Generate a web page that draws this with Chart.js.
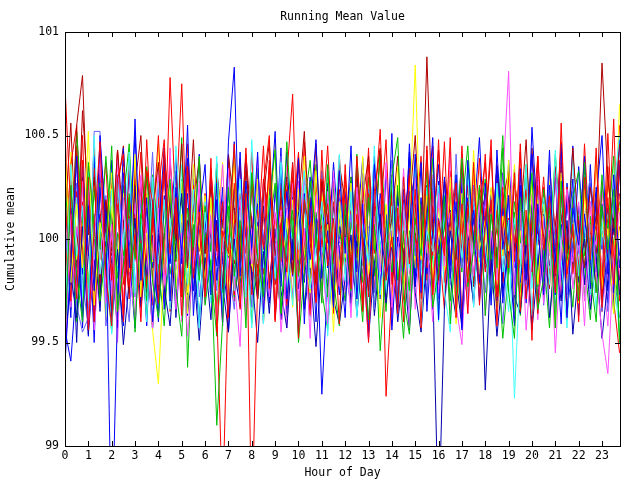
<!DOCTYPE html>
<html>
<head>
<meta charset="utf-8">
<script src="https://cdn.jsdelivr.net/npm/chart.js@4/dist/chart.umd.min.js"></script>
<style>
html,body{margin:0;padding:0;background:#fff;}
#wrap{width:640px;height:480px;}
</style>
</head>
<body>
<div id="wrap"><canvas id="c" width="640" height="480"></canvas></div>
<script>
// ---- Data ----
const chartTitle = "Running Mean Value";
const xTitle = "Hour of Day";
const yTitle = "Cumulative mean";
const xTicks = [0,1,2,3,4,5,6,7,8,9,10,11,12,13,14,15,16,17,18,19,20,21,22,23];
const yTicks = [99, 99.5, 100, 100.5, 101];
const hours = [0,0.25,0.5,0.75,1,1.25,1.5,1.75,2,2.25,2.5,2.75,3,3.25,3.5,3.75,4,4.25,4.5,4.75,5,5.25,5.5,5.75,
6,6.25,6.5,6.75,7,7.25,7.5,7.75,8,8.25,8.5,8.75,9,9.25,9.5,9.75,10,10.25,10.5,10.75,11,11.25,11.5,11.75,
12,12.25,12.5,12.75,13,13.25,13.5,13.75,14,14.25,14.5,14.75,15,15.25,15.5,15.75,16,16.25,16.5,16.75,17,17.25,17.5,17.75,
18,18.25,18.5,18.75,19,19.25,19.5,19.75,20,20.25,20.5,20.75,21,21.25,21.5,21.75,22,22.25,22.5,22.75,23,23.25,23.5,23.75];

const s01 = [100.74,100.12,99.71,100.38,99.56,100.05,100.47,99.82,99.58,100.29,100.41,99.77,100.02,99.6,100.33,100.18,99.69,100.44,99.93,100.2,99.63,100.35,99.81,100.13,
99.72,100.39,99.55,100.04,99.93,100.46,99.66,100.22,98.6,99.78,100.27,100.5,99.61,100.08,99.84,100.36,99.52,100.19,100.03,99.7,100.43,99.87,100.1,99.59,
100.31,99.76,100.4,99.97,99.5,100.16,100.53,99.8,100.01,99.64,100.3,99.88,100.24,99.57,100.45,99.73,100.09,99.92,100.49,99.62,100.17,99.79,100.37,99.68,
100.06,100.48,99.58,100.25,99.86,100.32,99.65,100.14,99.51,100.4,99.95,100.21,99.74,100.56,99.83,100.07,99.6,100.3,99.9,100.44,99.67,100.2,99.78,100.38];
const s02 = [99.52,100.26,99.83,99.6,100.37,100.06,99.7,99.94,100.45,99.65,99.87,100.2,99.55,100.11,100.34,99.79,99.62,100.02,100.29,99.76,99.53,100.15,99.96,100.4,
99.68,99.9,99.10,99.6,100.25,99.82,100.09,99.57,100.32,99.91,99.72,100.18,100.43,99.64,99.99,100.14,99.5,99.84,100.28,100.03,99.69,100.36,99.8,99.58,
100.17,99.75,100.41,99.95,99.61,100.07,99.46,99.89,100.3,100.49,99.71,99.54,100.1,99.92,100.33,99.67,99.85,100.21,99.59,100.01,100.39,99.77,99.94,100.26,
99.63,100.12,99.86,100.44,99.74,99.52,100.2,99.97,100.32,99.66,99.81,100.15,99.57,100.28,99.9,100.04,99.7,100.37,99.83,99.6,100.16,99.95,100.24,99.5];
const s03 = [99.4,99.88,100.4,99.57,100.16,99.75,100.5,100.07,98.5,99.66,100.32,99.86,100.58,99.8,100.2,99.6,100.03,100.44,99.7,100.25,99.92,100.55,99.63,100.12,
100.36,99.73,100.19,99.58,100.47,100.83,99.82,100.28,99.96,100.42,99.64,100.09,100.52,99.77,100.23,99.9,100.39,99.59,100.14,100.48,99.81,100.04,99.67,100.33,
99.93,100.45,99.71,100.17,99.55,100.36,100.05,99.84,100.51,99.65,100.24,99.91,100.41,99.74,100.1,100.49,99.61,100.3,99.87,100.18,99.56,100.38,100.0,99.79,
100.27,99.68,100.43,99.95,100.21,99.58,100.34,99.8,100.54,100.06,99.73,100.26,99.89,100.46,99.62,100.15,99.97,100.4,99.76,100.2,100.5,99.83,100.31,99.86];
const s04 = [99.46,100.12,99.74,100.28,99.58,99.92,100.39,99.69,100.07,99.5,100.2,99.83,99.62,100.31,99.95,99.57,100.15,99.78,100.44,99.66,100.03,99.53,99.89,100.24,
99.71,100.09,99.6,99.98,100.34,99.81,99.48,100.18,99.88,100.4,99.64,99.96,100.13,99.55,99.86,100.27,99.7,100.05,99.52,100.21,99.92,99.59,100.33,99.77,
100.01,99.62,100.25,99.9,99.51,100.11,99.84,100.37,99.67,99.94,100.17,99.57,100.3,99.75,99.99,99.6,100.22,99.87,100.42,99.68,99.49,100.08,99.82,100.19,
99.63,100.04,99.8,100.28,100.81,99.73,100.14,99.56,99.91,100.35,99.69,100.1,99.45,99.97,100.24,99.76,100.02,99.58,100.18,99.84,99.54,99.35,99.9,100.13];
const s05 = [99.61,100.36,99.92,100.16,99.7,100.5,99.83,100.03,99.54,100.27,99.95,100.42,99.74,100.1,99.6,100.3,99.88,100.19,99.66,100.45,99.99,99.78,100.24,99.57,
100.13,99.85,100.4,99.64,100.05,99.9,100.29,99.72,100.48,99.97,99.59,100.21,99.81,100.37,99.93,99.68,100.08,100.33,99.76,99.95,100.18,99.53,100.01,100.41,
99.8,100.23,99.62,100.07,99.89,100.45,99.73,99.99,100.3,99.65,100.14,99.86,100.38,99.58,100.04,99.94,100.26,99.75,99.55,100.12,99.91,100.35,99.67,100.17,
99.96,99.7,100.27,99.84,100.09,99.23,99.87,100.36,99.63,100.01,100.2,99.78,100.43,99.9,99.57,100.15,99.82,100.31,99.97,99.66,100.08,99.86,100.24,100.5];
const s06 = [100.46,99.79,100.17,99.86,100.52,99.68,100.08,99.93,100.32,99.61,100.22,99.84,100.41,99.72,100.03,99.56,99.3,99.9,100.27,99.76,100.12,99.64,100.36,99.97,
99.81,100.2,99.58,100.05,99.92,100.39,99.69,100.15,99.87,100.29,99.6,100.0,100.47,99.8,100.1,99.67,100.24,99.94,99.74,100.33,99.88,100.07,99.55,100.18,
99.91,100.27,99.7,100.4,99.83,100.02,99.62,100.16,99.96,100.35,99.75,100.11,100.84,99.9,100.21,99.68,100.06,99.85,100.3,99.59,100.14,99.81,100.43,99.95,
100.09,99.73,100.23,99.92,100.38,99.63,100.04,99.88,100.28,99.78,100.17,99.97,99.57,100.32,99.86,100.08,99.69,100.21,99.91,100.4,99.76,100.05,99.64,100.15];
const s07 = [100.38,99.88,100.55,100.79,100.02,100.3,99.79,100.19,99.94,100.43,100.08,99.74,100.26,100.5,99.9,100.13,100.37,99.82,100.21,100.0,100.46,99.87,100.15,100.39,
99.93,100.25,100.04,99.76,100.41,100.14,99.89,100.33,100.09,99.71,100.2,100.47,99.92,100.06,100.3,99.83,100.17,100.52,99.98,99.78,100.28,100.1,99.9,100.36,
100.18,99.85,100.32,100.01,99.75,100.23,100.44,99.95,100.1,100.4,99.86,100.16,100.5,99.97,100.88,100.05,99.8,100.29,100.12,99.9,100.37,100.0,99.77,100.22,
100.06,100.42,99.88,100.18,100.33,99.94,100.09,100.48,99.84,100.26,100.01,99.76,100.35,100.11,99.93,100.44,100.03,99.86,100.25,100.07,100.85,100.29,100.05,100.46];
const s08 = [99.47,99.83,99.62,100.06,99.54,99.9,99.72,100.17,99.6,99.95,99.49,99.8,100.1,99.67,99.92,99.56,100.02,99.76,99.58,99.98,100.22,99.65,99.86,99.51,
99.91,99.61,100.09,99.78,99.55,100.0,99.7,100.15,99.83,99.5,99.94,99.64,100.05,99.75,99.57,99.97,100.19,99.66,99.86,99.48,99.89,100.08,99.71,99.59,
99.81,100.02,99.63,99.95,99.52,99.88,100.12,99.69,99.98,99.6,99.85,100.16,99.74,99.55,99.93,99.78,98.6,99.66,100.04,99.82,99.57,99.96,99.68,100.13,
99.27,99.9,99.53,99.84,100.07,99.72,99.64,99.97,99.56,99.87,100.18,99.62,99.92,99.7,100.09,99.54,99.85,100.0,99.66,99.91,99.52,99.8,100.1,99.73];
const s09 = [100.28,99.86,100.52,100.09,99.76,100.24,99.95,100.4,100.03,99.81,100.19,100.46,99.9,100.12,99.7,100.31,100.0,99.84,100.22,99.93,100.49,99.38,100.07,99.8,
100.16,99.94,100.36,99.74,100.1,100.42,99.88,100.23,99.98,100.34,99.78,100.05,100.27,99.91,100.47,100.01,99.82,100.17,100.38,99.96,100.12,99.72,100.25,100.04,
99.89,100.3,100.03,99.79,100.2,99.95,100.43,100.08,99.84,100.26,100.0,99.75,100.35,100.13,99.92,100.39,99.87,100.06,100.23,99.71,100.15,100.45,99.96,100.1,
100.29,99.9,100.05,100.5,99.83,100.18,99.98,100.36,100.09,99.77,100.24,99.94,100.41,100.02,99.86,100.2,100.33,99.92,100.11,99.74,100.27,100.04,100.4,99.5];
const s10 = [100.21,99.7,100.45,99.87,100.3,99.6,100.09,100.37,99.8,100.17,99.64,100.41,99.95,100.25,99.76,100.05,100.5,99.89,100.78,100.12,99.72,100.33,99.92,100.2,
99.82,100.07,99.66,98.7,99.79,100.27,99.91,100.44,99.73,100.14,99.96,100.35,99.6,100.03,100.24,99.83,100.4,99.9,100.08,99.69,100.29,99.98,100.18,99.77,
100.36,99.85,100.12,99.65,100.22,99.94,100.43,99.24,99.75,100.11,99.88,100.31,100.02,99.71,100.2,99.92,100.48,99.79,100.06,100.27,99.62,100.15,99.97,100.39,
99.84,100.19,99.72,100.04,100.3,99.89,100.46,99.8,100.09,99.64,100.25,100.01,99.83,100.37,99.93,100.13,99.73,100.32,99.95,100.2,99.78,100.51,99.88,100.06];
const s11 = [99.5,100.15,99.77,100.36,99.94,99.6,100.25,99.85,100.05,99.68,100.44,99.91,99.57,100.11,99.82,100.3,99.64,100.03,99.88,100.21,99.72,100.39,99.93,99.59,
100.09,99.8,100.27,99.66,100.02,99.92,100.42,99.75,99.97,100.17,99.61,100.07,99.86,100.34,99.71,100.0,99.54,100.22,99.9,100.1,99.25,99.79,100.16,99.95,
99.62,100.28,99.84,100.06,99.96,100.4,99.74,100.12,99.56,100.01,99.89,100.23,99.77,100.37,99.65,100.04,99.93,100.19,99.81,100.31,99.58,99.98,100.14,99.7,
100.11,99.9,100.35,99.69,100.03,99.78,100.26,99.94,99.6,100.17,99.84,100.43,99.73,100.07,99.96,100.29,99.63,100.12,99.88,100.22,99.8,100.02,99.67,100.48];
const s12 = [99.88,100.25,99.68,99.55,99.62,100.52,100.52,99.58,99.82,100.31,99.96,100.1,99.72,100.19,99.91,100.42,99.78,100.01,100.27,99.7,100.07,99.9,100.35,99.83,
100.15,99.95,100.37,99.76,100.03,100.24,99.87,100.11,99.67,100.3,99.98,100.16,99.8,100.4,100.0,99.71,100.21,99.93,100.08,99.75,100.33,100.02,99.85,100.19,
99.94,100.12,99.74,100.32,99.99,99.66,100.17,99.9,100.38,100.05,99.8,100.22,99.92,100.08,99.7,100.29,99.97,100.13,99.78,100.41,99.86,100.06,100.26,99.91,
100.1,99.77,100.27,99.95,100.18,99.69,100.03,100.32,99.88,100.15,99.79,100.36,99.98,100.07,99.73,100.23,99.93,100.11,100.3,99.84,100.01,99.65,100.17,100.45];
const s13 = [99.74,100.36,100.55,99.91,100.16,99.69,100.47,100.03,99.83,100.29,99.6,100.2,99.97,100.42,99.79,100.1,99.9,100.33,99.65,100.14,100.75,99.86,100.25,100.05,
99.71,100.34,99.94,100.18,99.62,100.07,100.39,99.8,100.26,99.99,100.45,99.76,100.12,99.89,100.3,100.7,99.82,100.05,99.63,100.27,99.96,100.17,99.73,100.4,
100.02,99.85,100.23,99.68,100.36,99.93,100.11,100.48,99.78,100.15,99.6,100.3,100.0,99.9,100.43,99.72,100.21,99.95,100.33,99.81,100.08,99.64,100.26,99.98,
100.41,99.8,100.14,99.92,100.32,99.67,100.05,100.24,99.87,100.38,99.75,100.11,99.97,100.28,99.61,100.18,99.84,100.46,99.94,100.07,99.73,100.35,99.89,100.22];
const s14 = [100.31,99.67,100.06,99.86,100.24,99.56,99.93,100.13,99.73,100.39,99.82,99.99,100.17,99.62,100.09,99.9,100.34,99.77,99.96,100.21,99.6,100.04,99.84,100.28,
99.69,100.12,99.92,100.36,99.79,99.98,100.19,99.63,100.05,99.88,100.27,99.72,99.95,100.14,99.57,100.02,99.83,100.33,99.91,100.08,99.7,100.23,99.78,100.0,
99.9,100.29,99.71,100.1,99.96,100.38,99.76,100.01,99.58,100.16,99.86,100.25,99.66,100.06,99.93,100.31,99.74,99.99,100.13,99.84,100.37,99.64,100.04,99.91,
100.19,99.78,100.09,99.95,100.3,99.68,100.0,99.85,100.22,99.61,100.11,99.92,100.35,99.73,100.03,99.89,100.18,99.7,100.07,99.97,100.26,99.8,100.14,99.83];
const s15 = [99.48,99.94,100.2,99.72,100.33,99.9,100.07,99.64,100.24,99.84,100.01,100.41,99.76,100.13,99.96,99.6,100.28,99.89,100.1,99.7,100.36,99.93,100.03,99.79,
100.18,99.69,100.06,99.94,100.3,99.75,100.14,99.97,99.57,100.22,99.86,100.05,99.91,100.38,99.73,100.09,99.95,100.26,99.62,100.0,99.88,100.34,99.78,100.12,
99.92,100.21,99.68,100.04,99.87,100.37,99.98,99.74,100.16,99.91,100.29,99.63,100.07,99.84,100.25,99.96,99.6,100.13,99.8,100.32,99.99,99.71,100.2,99.89,
100.05,99.82,100.27,99.94,99.65,100.1,99.9,100.31,99.76,100.02,99.95,100.23,99.58,100.15,99.86,100.4,99.92,100.06,99.73,100.2,99.97,100.12,99.81,99.55];
const s16 = [99.68,100.42,99.9,100.1,99.77,100.26,99.98,99.61,100.16,99.87,100.35,99.95,100.05,99.72,100.22,99.89,100.46,99.82,100.09,99.93,100.28,99.74,100.13,99.96,
100.21,99.85,100.03,100.37,99.73,100.14,99.94,100.25,99.84,100.06,99.66,100.31,99.99,100.11,99.78,100.19,99.9,100.4,99.97,99.75,100.23,99.95,100.08,99.86,
100.29,99.92,100.12,99.8,100.04,100.34,99.88,100.17,99.69,100.1,99.96,100.27,99.86,100.01,100.38,99.79,100.15,99.93,100.06,99.71,100.22,99.91,100.32,99.83,
100.0,100.25,99.78,100.11,99.95,100.36,99.7,100.07,99.9,100.19,99.84,100.28,99.97,100.04,99.76,100.14,99.92,100.24,99.82,100.09,99.98,100.31,99.87,100.65];
const s17 = [100.52,99.81,100.23,99.9,100.35,100.06,99.72,100.18,99.97,100.43,99.78,100.11,99.91,100.3,100.02,99.68,100.2,99.87,100.39,99.99,100.08,99.76,100.26,99.94,
100.13,99.85,100.33,99.96,100.05,99.73,100.22,99.93,100.42,99.82,100.1,100.29,99.89,100.16,99.7,100.03,100.36,99.95,100.19,99.8,100.07,100.45,99.88,100.24,
99.98,100.14,99.75,100.28,99.92,100.09,100.4,99.84,100.2,99.96,100.02,99.66,100.31,100.01,99.86,100.23,99.93,100.47,99.81,100.11,99.97,100.26,99.77,100.16,
100.37,99.9,100.06,99.79,100.21,100.0,99.87,100.3,99.94,100.14,99.72,100.35,100.04,99.89,100.25,99.83,100.09,99.96,100.18,99.74,100.27,99.93,100.58,99.7];
const s18 = [99.8,100.17,99.6,99.95,100.12,99.7,100.27,99.86,99.55,100.03,99.92,100.22,99.76,99.98,99.63,100.14,99.87,99.58,100.06,99.9,100.2,99.73,99.95,99.61,
100.03,99.84,99.53,99.99,100.16,99.72,99.91,100.1,99.59,99.96,100.25,99.79,99.89,99.64,100.05,99.83,100.19,99.68,99.95,100.13,99.75,99.56,100.01,99.88,
99.7,100.08,99.92,99.6,100.21,99.82,99.98,99.65,100.14,99.87,99.52,100.04,99.94,99.76,100.17,99.9,99.66,100.1,99.84,99.97,99.59,100.15,99.8,99.93,
100.07,99.71,99.96,99.52,99.85,100.13,99.63,99.99,99.8,100.19,99.91,99.57,100.03,99.77,99.95,99.67,100.11,99.88,99.61,100.05,99.83,99.98,99.64,99.9];
const s19 = [100.07,99.62,100.44,99.83,100.19,99.5,100.31,99.9,100.12,99.73,100.38,99.95,100.51,99.79,100.15,99.86,100.27,99.66,100.04,100.4,99.88,100.22,99.75,100.1,
99.93,100.29,99.8,100.16,99.97,100.47,99.74,100.07,99.87,100.34,100.0,99.69,100.24,99.91,100.42,99.82,100.13,99.95,100.3,99.77,100.18,99.89,100.37,99.98,
100.23,99.84,100.03,100.39,99.9,100.16,99.71,100.33,99.96,100.1,99.78,100.46,99.92,100.2,99.83,100.05,100.36,99.87,100.14,99.73,100.27,99.97,100.08,100.49,
99.91,100.18,99.81,100.32,100.01,99.72,100.23,99.94,100.41,99.85,100.12,99.97,100.3,99.79,100.19,99.88,100.35,100.02,99.86,100.25,99.95,100.15,99.74,100.36];
const s20 = [99.58,100.14,99.5,100.3,99.78,100.0,99.65,100.18,99.88,99.57,100.09,99.82,100.26,99.7,99.96,100.15,99.75,99.92,100.22,99.62,100.05,99.86,99.97,100.19,
99.77,100.04,99.6,99.95,100.23,99.85,99.67,100.11,99.91,99.71,100.16,99.8,100.01,99.61,99.94,100.2,99.76,99.98,99.64,100.08,99.88,100.27,99.72,99.9,
100.12,99.69,99.99,99.83,100.19,99.63,99.93,100.06,99.79,100.24,99.89,99.56,100.03,99.86,100.15,99.73,99.96,100.28,99.81,99.62,100.09,99.9,99.7,100.14,
99.85,99.98,100.21,99.74,99.94,99.59,100.07,99.88,100.17,99.68,99.97,100.04,99.82,100.25,99.64,99.9,100.11,99.78,99.99,100.18,99.71,99.93,100.06,99.8];
const s21 = [100.1,100.56,99.86,100.62,100.2,99.8,100.35,100.02,99.92,100.24,100.45,99.83,100.12,99.95,100.31,100.07,99.77,100.39,100.15,99.89,100.27,100.0,100.48,99.85,
100.18,99.94,100.33,100.08,99.81,100.23,99.98,100.41,100.05,99.86,100.29,100.12,99.78,100.2,100.01,100.37,99.9,100.15,99.99,100.46,99.88,100.1,100.28,99.8,
100.06,100.3,99.91,100.19,100.4,99.97,100.13,99.82,100.26,100.07,99.93,100.34,100.16,99.85,100.22,100.0,100.43,99.89,100.09,100.31,99.95,100.18,99.79,100.25,
100.14,99.9,100.36,100.04,99.84,100.27,100.1,99.95,100.44,100.01,99.87,100.2,100.06,100.35,99.92,100.16,99.81,100.3,100.03,99.93,100.24,100.08,99.88,100.33];
const s22 = [99.63,99.97,100.27,99.8,99.57,100.12,99.9,100.21,99.73,100.03,99.85,99.6,100.17,99.94,99.76,100.08,100.25,99.69,99.92,100.14,99.79,99.99,100.29,99.72,
99.95,100.1,99.75,100.19,99.87,99.66,100.05,99.97,100.26,99.78,99.91,100.11,99.62,100.0,99.83,100.22,99.7,99.96,100.15,99.81,100.04,99.58,99.89,100.2,
99.86,99.67,100.07,99.92,100.24,99.74,99.99,99.85,100.13,99.64,100.02,99.9,100.28,99.79,99.95,100.09,99.71,100.17,99.88,99.77,100.21,99.97,99.82,100.05,
99.74,100.12,99.91,99.59,100.01,99.86,100.2,99.78,99.94,100.25,99.68,99.99,100.08,99.82,100.16,99.93,99.73,100.04,99.89,100.23,99.65,100.0,99.84,99.62];
const s23 = [99.55,100.25,99.88,100.5,99.72,100.34,99.96,100.16,99.66,100.43,99.84,100.08,100.29,99.78,100.48,99.92,100.2,99.7,100.37,100.02,99.81,100.46,99.95,100.17,
99.77,100.32,99.99,99.6,100.4,99.88,100.18,99.73,100.27,100.05,99.83,100.38,99.94,100.12,99.68,100.3,99.9,100.47,99.76,100.1,99.97,100.24,99.64,100.33,
100.01,99.81,100.26,99.93,100.44,99.75,100.13,99.95,100.31,99.69,100.19,99.88,100.06,100.4,99.8,100.16,99.98,99.66,100.28,99.86,100.45,99.92,100.1,99.72,
100.22,99.94,100.35,99.79,100.08,99.89,100.42,99.71,100.16,99.97,100.3,99.83,100.03,100.47,99.76,100.13,99.93,100.26,99.85,100.39,99.99,100.11,99.7,99.45];
const s24 = [99.56,99.41,99.8,100.14,99.53,100.4,99.72,99.99,99.61,100.23,99.86,100.33,99.75,100.05,99.58,100.19,99.92,100.37,99.68,100.1,99.95,99.63,100.27,99.84,
100.03,99.71,100.3,99.89,99.64,100.15,99.96,100.39,99.8,100.08,99.59,100.25,99.93,100.44,99.74,100.0,99.86,100.32,99.67,100.12,99.97,100.2,99.76,100.06,
99.9,100.27,99.7,100.1,99.94,100.35,99.78,100.04,99.62,100.21,99.88,100.42,99.82,100.13,99.98,99.66,100.28,99.91,100.08,99.72,100.33,99.95,100.17,99.81,
100.09,99.92,100.24,99.76,100.38,99.96,100.14,99.69,100.05,100.3,99.85,100.2,99.63,100.12,99.97,100.45,99.79,100.02,100.27,99.88,100.17,99.75,100.08,100.36];
const s25 = [100.2,99.78,100.05,99.63,100.3,99.91,100.12,99.7,100.38,99.85,99.58,100.16,99.97,100.27,99.74,100.02,99.6,100.21,99.89,100.33,99.76,100.09,99.94,100.41,
99.69,100.11,99.87,100.25,99.55,100.04,100.36,99.8,99.98,100.19,99.72,100.31,99.9,100.07,99.64,100.23,99.95,99.79,100.14,99.6,100.28,99.86,100.01,99.73,
100.17,99.92,100.34,99.67,100.06,99.83,100.22,99.98,99.62,100.13,99.89,100.39,99.77,100.03,100.26,99.71,100.1,99.93,100.3,99.66,99.99,100.2,99.81,100.07,
99.88,100.24,99.7,100.15,99.96,100.34,99.79,100.05,100.21,99.65,100.12,99.87,100.03,99.59,100.27,99.94,100.16,99.78,100.36,99.84,100.04,99.69,100.19,99.92];
const s26 = [100.05,100.31,99.77,100.18,99.92,100.44,99.68,100.1,100.27,99.87,100.03,99.71,100.36,99.96,100.15,99.81,100.24,100.48,99.9,100.06,99.74,100.3,100.12,99.85,
100.22,99.79,100.09,99.93,100.4,99.7,100.17,100.01,99.84,100.33,99.95,100.13,99.66,100.27,99.89,100.08,100.42,99.82,100.2,99.97,99.75,100.35,99.91,100.1,
99.83,100.26,99.97,100.14,99.72,100.38,100.04,99.88,100.21,99.67,100.09,100.3,99.86,100.16,99.94,100.45,99.78,100.07,99.9,100.25,100.0,99.73,100.34,99.95,
100.15,99.8,100.28,99.99,100.1,99.69,100.32,99.92,100.06,100.4,99.83,100.18,99.96,99.74,100.23,100.01,99.87,100.37,99.94,100.11,99.65,100.29,100.02,100.55];
const s27 = [99.93,99.66,100.21,99.85,100.04,100.3,99.74,99.98,100.13,99.6,100.26,99.9,100.07,99.8,100.35,99.94,99.69,100.16,99.83,100.02,100.29,99.77,99.96,100.11,
99.86,100.2,99.64,100.08,99.91,100.24,99.79,100.0,100.32,99.71,99.97,100.14,99.83,100.27,99.62,100.05,99.88,100.18,99.75,100.36,99.92,100.03,99.68,100.15,
100.0,99.76,100.19,99.87,100.3,99.65,100.09,99.93,100.23,99.8,100.04,99.58,100.17,99.95,99.73,100.26,99.89,100.12,99.7,100.06,99.84,100.33,99.96,99.78,
100.13,99.9,99.67,100.2,99.86,100.07,99.74,100.28,99.94,100.1,99.81,100.02,99.63,100.24,99.97,99.84,100.15,99.72,100.08,99.88,100.31,99.79,99.99,100.18];
const s28 = [99.8,100.09,99.92,99.67,100.22,99.86,100.12,99.75,100.3,99.96,99.7,100.05,99.89,100.26,99.64,100.14,99.93,99.78,100.2,99.85,100.01,99.68,100.17,99.9,
100.06,99.74,100.19,99.88,100.32,99.8,99.99,99.66,100.11,99.94,100.24,99.78,100.03,99.87,100.15,99.71,100.28,99.9,99.76,100.08,99.95,100.21,99.82,99.97,
99.73,100.13,99.88,100.25,99.79,99.99,100.18,99.69,100.04,99.91,100.34,99.83,99.97,100.1,99.74,100.2,99.86,100.01,99.64,100.14,99.92,100.27,99.8,100.06,
99.95,99.77,100.16,99.85,100.08,99.62,100.2,99.9,100.0,99.72,100.23,99.96,99.84,100.12,99.79,100.06,99.92,100.29,99.7,100.03,99.89,99.58,100.11,99.81];

const seriesList = [s01,s02,s03,s04,s05,s06,s07,s08,s09,s10,s11,s12,s13,s14,s15,s16,s17,s18,s19,s20,s21,s22,s23,s24,s25,s26,s27,s28];
const seriesColors = ['#ff0000','#00c000','#0000ff','#ff50ff','#40ffff','#ffff00','#b00000','#0000b0',
  '#00c000','#ff0000','#0000ff','#6060ff','#ff0000','#ff50ff','#40ffff','#ffff00',
  '#ff0000','#00c000','#0000ff','#0000b0','#b00000','#6060ff','#ff0000','#0000ff',
  '#0000ff','#ff0000','#00c000','#ff50ff'];

// ---- Chart ----
const FONT = {family: "'DejaVu Sans Mono', 'Liberation Mono', monospace", size: 11.5, lineHeight: 1.2};

const datasets = seriesList.map((s, k) => ({
  label: 'series ' + (k + 1),
  data: hours.map((h, i) => ({x: h, y: s[i]})),
  borderColor: seriesColors[k],
  backgroundColor: seriesColors[k],
  borderWidth: 1,
  pointRadius: 0,
  tension: 0,
  fill: false
}));

const frameTicks = {
  id: 'frameTicks',
  afterDraw(chart) {
    const ctx = chart.ctx, a = chart.chartArea;
    const xs = chart.scales.x, ys = chart.scales.y;
    const L = 5;
    ctx.save();
    ctx.strokeStyle = '#000';
    ctx.lineWidth = 1;
    ctx.beginPath();
    xTicks.forEach(v => {
      const px = Math.round(xs.getPixelForValue(v)) + 0.5;
      ctx.moveTo(px, a.bottom); ctx.lineTo(px, a.bottom - L);
      ctx.moveTo(px, a.top); ctx.lineTo(px, a.top + L);
    });
    yTicks.forEach(v => {
      const py = Math.round(ys.getPixelForValue(v)) + 0.5;
      ctx.moveTo(a.left, py); ctx.lineTo(a.left + L, py);
      ctx.moveTo(a.right, py); ctx.lineTo(a.right - L, py);
    });
    ctx.stroke();
    ctx.strokeRect(Math.round(a.left) + 0.5, Math.round(a.top) + 0.5,
                   Math.round(a.right - a.left), Math.round(a.bottom - a.top));
    ctx.restore();
  }
};

new Chart(document.getElementById('c'), {
  type: 'line',
  data: {datasets},
  plugins: [frameTicks],
  options: {
    responsive: false,
    animation: false,
    events: [],
    layout: {padding: {left: 0, right: 20, top: 0, bottom: 0}},
    plugins: {
      legend: {display: false},
      tooltip: {enabled: false},
      title: {
        display: true,
        text: chartTitle,
        color: '#000',
        font: Object.assign({}, FONT, {weight: 'normal'}),
        fullSize: false,
        padding: {top: 10, bottom: 8.2}
      }
    },
    scales: {
      x: {
        type: 'linear',
        min: 0,
        max: 23.77,
        afterBuildTicks: s => { s.ticks = xTicks.map(v => ({value: v})); },
        afterFit: s => { s.height = 34; },
        ticks: {
          color: '#000', font: FONT, padding: 3, maxRotation: 0, autoSkip: false,
          callback: v => String(v)
        },
        grid: {display: true, drawOnChartArea: false, drawTicks: false, color: 'rgba(0,0,0,0)'},
        border: {display: false},
        title: {display: true, text: xTitle, color: '#000', font: FONT, padding: {top: 0, bottom: 0}}
      },
      y: {
        type: 'linear',
        min: 99,
        max: 101,
        afterBuildTicks: s => { s.ticks = yTicks.map(v => ({value: v})); },
        afterFit: s => { s.width = 65; },
        ticks: {
          color: '#000', font: FONT, padding: 6,
          callback: v => String(v)
        },
        grid: {display: true, drawOnChartArea: false, drawTicks: false, color: 'rgba(0,0,0,0)'},
        border: {display: false},
        title: {display: true, text: yTitle, color: '#000', font: FONT, padding: {top: 4, bottom: 0}}
      }
    }
  }
});
</script>
</body>
</html>
